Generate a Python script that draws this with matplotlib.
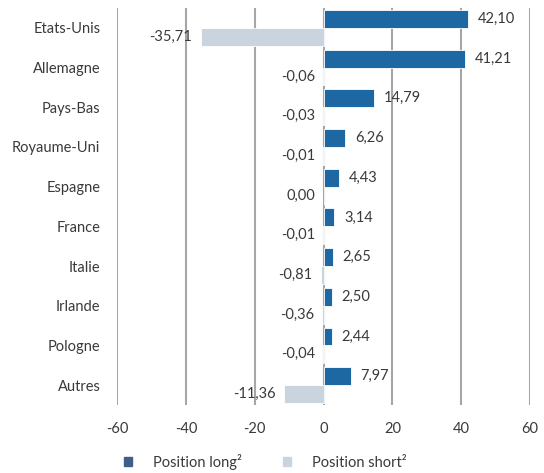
import matplotlib
matplotlib.use("Agg")
import matplotlib.pyplot as plt
import numpy as np
from matplotlib.patches import Patch

categories = ["Etats-Unis", "Allemagne", "Pays-Bas", "Royaume-Uni", "Espagne",
              "France", "Italie", "Irlande", "Pologne", "Autres"]
long_vals = [42.10, 41.21, 14.79, 6.26, 4.43, 3.14, 2.65, 2.50, 2.44, 7.97]
short_vals = [-35.71, -0.06, -0.03, -0.01, 0.00, -0.01, -0.81, -0.36, -0.04, -11.36]
xticks = [-60, -40, -20, 0, 20, 40, 60]

plt.rcParams['font.family'] = ['Lato', 'DejaVu Sans']
LONG = "#1D67A3"
SHORT = "#C9D4DF"
TXT = "#3a3a3a"

fig = plt.figure(figsize=(5.44, 4.73), dpi=100)
ax = fig.add_axes([117/544, 1-405/473, (530-117)/544, (405-8)/473])

y = np.arange(len(categories))
h = 0.45
ax.barh(y - h/2, long_vals, height=h, color=LONG, edgecolor="white", linewidth=0.6, zorder=3)
ax.barh(y + h/2, short_vals, height=h, color=SHORT, edgecolor="white", linewidth=0.6, zorder=3)

for i, v in enumerate(long_vals):
    ax.annotate(f"{v:.2f}".replace(".", ","), (v, i - h/2), xytext=(7, 0),
                textcoords="offset points", ha="left", va="center", fontsize=10.5, color=TXT, zorder=4)
for i, v in enumerate(short_vals):
    s = f"{v:.2f}".replace(".", ",")
    ax.annotate(s, (min(v, 0), i + h/2), xytext=(-6, 0),
                textcoords="offset points", ha="right", va="center", fontsize=10.5, color=TXT, zorder=4)

ax.set_xlim(-60, 60)
ax.set_ylim(len(categories) - 0.5, -0.5)
ax.set_xticks(xticks)
ax.set_xticklabels([str(t) for t in xticks])
ax.set_yticks(y)
ax.set_yticklabels(categories)
ax.tick_params(axis="both", length=0, labelsize=10.5, labelcolor=TXT)
ax.tick_params(axis="x", pad=12)
ax.tick_params(axis="y", pad=12)
ax.grid(axis="x", color="#A6A6A6", linewidth=1.5, zorder=0)
for s in ax.spines.values():
    s.set_visible(False)

handles = [Patch(color="#3F5E8C", label="Position long²"),
           Patch(color=SHORT, label="Position short²")]
fig.legend(handles=handles, loc="center", bbox_to_anchor=(265/544, 1-462/473), ncol=2,
           frameon=False, fontsize=10.5, handlelength=0.6, handleheight=0.6,
           handletextpad=1.4, columnspacing=2.8, labelcolor=TXT)

fig.savefig("out.png", dpi=100)
